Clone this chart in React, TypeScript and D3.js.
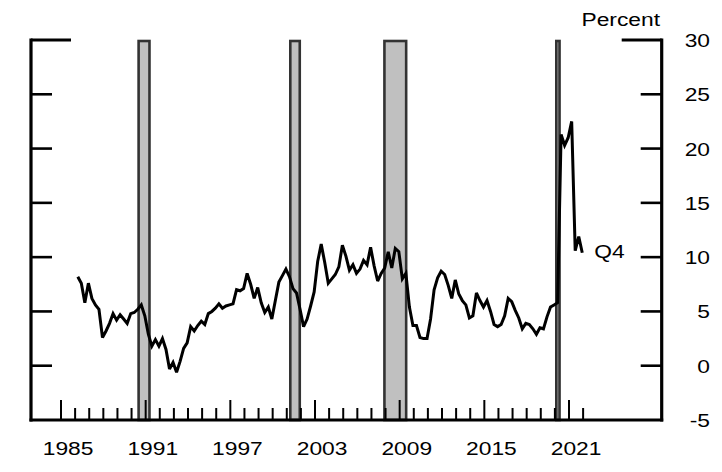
import React from "react";
import * as d3 from "d3";

// Quarterly series, first observation 1986:Q1, last 2021:Q4
const firstYear = 1986;
const growth: number[] = [
  8.2, 7.6, 5.8, 7.6,
  6.2, 5.6, 5.2, 2.6,
  3.2, 3.9, 4.8, 4.2,
  4.7, 4.3, 3.9, 4.8,
  4.9, 5.2, 5.6, 4.6,
  2.9, 1.8, 2.4, 1.8,
  2.5, 1.5, -0.3, 0.3,
  -0.6, 0.4, 1.6, 2.1,
  3.6, 3.2, 3.7, 4.1,
  3.8, 4.8, 5.0, 5.3,
  5.7, 5.3, 5.5, 5.6,
  5.7, 7.0, 6.9, 7.1,
  8.5, 7.5, 6.2, 7.2,
  5.8, 4.9, 5.4, 4.3,
  6.0, 7.7, 8.3, 8.9,
  8.2, 7.1, 6.7, 5.2,
  3.6, 4.3, 5.5, 6.8,
  9.6, 11.2, 9.5, 7.6,
  8.0, 8.4, 9.1, 11.1,
  10.1, 8.8, 9.3, 8.5,
  8.9, 9.7, 9.3, 10.9,
  9.2, 7.8, 8.5, 9.0,
  10.5, 9.0, 10.8, 10.5,
  8.0, 8.5, 5.4, 3.7,
  3.7, 2.6, 2.5, 2.5,
  4.3, 7.0, 8.1, 8.7,
  8.4, 7.4, 6.2, 7.9,
  6.6, 6.0, 5.6, 4.4,
  4.6, 6.7, 6.0, 5.4,
  6.0, 5.0, 3.8, 3.6,
  3.8, 4.6, 6.2, 5.9,
  5.1, 4.4, 3.4, 3.9,
  3.8, 3.4, 2.9, 3.5,
  3.4, 4.5, 5.4, 5.6,
  5.8, 21.3, 20.3, 21.0,
  22.5, 10.6, 11.9, 10.4,
];

const recessionStarts = [1990.5, 2001.25, 2007.92, 2020.1];
const recessionEnds = [1991.27, 2001.92, 2009.46, 2020.33];

const yTicks = [30, 25, 20, 15, 10, 5, 0, -5];
const xLabelYears = [1985, 1991, 1997, 2003, 2009, 2015, 2021];
const tickYears = d3.range(1985, 2023);
const yUnit = "Percent";
const lastLabel = "Q4";

const W = 722;
const H = 472;
const FONT = "'Liberation Sans', Arial, Helvetica, sans-serif";

function Stretched({ x, y, anchor, children, size = 19 }: any) {
  return (
    <text
      transform={`translate(${x},${y}) scale(1.2,1)`}
      textAnchor={anchor}
      fontFamily={FONT}
      fontSize={size}
      fill="#000"
    >
      {children}
    </text>
  );
}

export default function App() {
  const x = d3.scaleLinear().domain([1985, 2021]).range([61, 569]);
  const y = d3.scaleLinear().domain([-5, 30]).range([420, 40]);
  const left = 31;
  const right = 661.7;

  const pts = growth.map((v, i) => ({
    t: firstYear + i / 4 + 0.19,
    v,
  }));
  const line = d3
    .line<{ t: number; v: number }>()
    .x((d) => x(d.t))
    .y((d) => y(d.v));
  const last = pts[pts.length - 1];

  return (
    <svg
      width={W}
      height={H}
      style={{ position: "absolute", left: 0, top: 0, background: "#fff" }}
    >
      <rect x={0} y={0} width={W} height={H} fill="#fff" />
      {recessionStarts.map((s, i) => (
        <rect
          key={i}
          x={x(s)}
          y={y(30) + 1}
          width={x(recessionEnds[i]) - x(s)}
          height={y(-5) - y(30) - 1}
          fill="#c0c0c0"
          stroke="#333"
          strokeWidth={2.6}
        />
      ))}
      {/* axes */}
      <line x1={left} x2={left} y1={y(30) - 1.5} y2={y(-5) + 1.5} stroke="#000" strokeWidth={3.2} />
      <line x1={right} x2={right} y1={y(30) - 1.5} y2={y(-5) + 1.5} stroke="#000" strokeWidth={3.2} />
      <line x1={left - 1.5} x2={right + 1.5} y1={y(-5)} y2={y(-5)} stroke="#000" strokeWidth={3.2} />
      {yTicks
        .filter((t) => t > -5)
        .map((t) => {
          const len = t === 30 ? 40 : 21;
          const w = t === 30 ? 3.2 : 2.6;
          return (
            <g key={t}>
              <line x1={left} x2={left + len} y1={y(t)} y2={y(t)} stroke="#000" strokeWidth={w} />
              <line x1={right - len} x2={right} y1={y(t)} y2={y(t)} stroke="#000" strokeWidth={w} />
            </g>
          );
        })}
      {tickYears.map((yr) => {
        const major = xLabelYears.includes(yr);
        return (
          <line
            key={yr}
            x1={x(yr)}
            x2={x(yr)}
            y1={y(-5)}
            y2={y(-5) - (major ? 20 : 12)}
            stroke="#000"
            strokeWidth={2}
          />
        );
      })}
      {/* series */}
      <path
        d={line(pts) || ""}
        fill="none"
        stroke="#000"
        strokeWidth={3}
        strokeLinejoin="miter"
        strokeMiterlimit={3}
      />
      {/* labels */}
      {yTicks.map((t) => (
        <Stretched key={t} x={710} y={y(t) + 7} anchor="end">
          {t}
        </Stretched>
      ))}
      {xLabelYears.map((yr) => (
        <Stretched key={yr} x={x(yr + 0.5)} y={455} anchor="middle">
          {yr}
        </Stretched>
      ))}
      <Stretched x={660} y={26} anchor="end">
        {yUnit}
      </Stretched>
      <Stretched x={x(last.t) + 12} y={y(last.v) + 5} anchor="start">
        {lastLabel}
      </Stretched>
    </svg>
  );
}
